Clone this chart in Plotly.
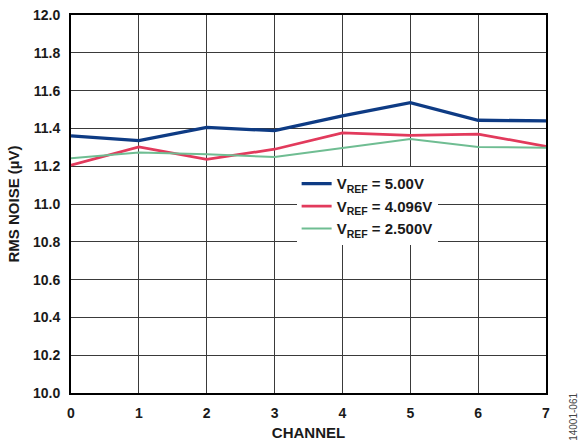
import plotly.graph_objects as go

channels = [0, 1, 2, 3, 4, 5, 6, 7]
vref_500 = [11.36, 11.335, 11.405, 11.388, 11.466, 11.536, 11.443, 11.44]
vref_4096 = [11.205, 11.302, 11.236, 11.29, 11.376, 11.363, 11.37, 11.305]
vref_2500 = [11.242, 11.273, 11.263, 11.249, 11.296, 11.344, 11.302, 11.298]
series_names = ["V<sub>REF</sub> = 5.00V", "V<sub>REF</sub> = 4.096V", "V<sub>REF</sub> = 2.500V"]
y_ticks = [10.0, 10.2, 10.4, 10.6, 10.8, 11.0, 11.2, 11.4, 11.6, 11.8, 12.0]

fig = go.Figure()
fig.add_trace(go.Scatter(x=channels, y=vref_500, mode="lines", name="<b>" + series_names[0] + "</b>",
                         line=dict(color="#0e3b84", width=3.3)))
fig.add_trace(go.Scatter(x=channels, y=vref_4096, mode="lines", name="<b>" + series_names[1] + "</b>",
                         line=dict(color="#e23a5c", width=2.7)))
fig.add_trace(go.Scatter(x=channels, y=vref_2500, mode="lines", name="<b>" + series_names[2] + "</b>",
                         line=dict(color="#6fbd92", width=2)))

font_family = "Liberation Sans, Arial, sans-serif"
fig.update_layout(
    width=581, height=444,
    margin=dict(l=71, r=35, t=15, b=51),
    paper_bgcolor="white", plot_bgcolor="white",
    font=dict(family=font_family, size=14, color="#1a1a1a"),
    showlegend=True,
    legend=dict(x=0.475, y=0.597, xanchor="left", yanchor="top",
                bgcolor="white", borderwidth=0,
                font=dict(family=font_family, size=15, color="#1a1a1a"),
                tracegroupgap=0, itemwidth=30),
    xaxis=dict(range=[0, 7], tickvals=channels, ticktext=[f"<b>{c}</b>" for c in channels],
               showgrid=True, gridcolor="#3a3a3a", gridwidth=1.3,
               showline=True, linecolor="black", linewidth=2, mirror=True,
               ticks="", zeroline=False, ticklabelstandoff=6, automargin=False,
               tickfont=dict(family=font_family, size=14, color="#1a1a1a"),
               title=dict(text="<b>CHANNEL</b>", standoff=8,
                          font=dict(family=font_family, size=15, color="#1a1a1a"))),
    yaxis=dict(range=[10.0, 12.0], tickvals=y_ticks, ticktext=[f"<b>{v:.1f}</b>" for v in y_ticks],
               showgrid=True, gridcolor="#3a3a3a", gridwidth=1.3,
               showline=True, linecolor="black", linewidth=2, mirror=True,
               ticks="", zeroline=False, ticklabelstandoff=6, automargin=False,
               tickfont=dict(family=font_family, size=14, color="#1a1a1a"),
               title=dict(text="<b>RMS NOISE (µV)</b>", standoff=10,
                          font=dict(family=font_family, size=15, color="#1a1a1a"))),
)

fig.add_annotation(text="14001-061", x=1.0, xref="paper", xanchor="center", xshift=28,
                   y=-0.063, yref="paper", yanchor="middle",
                   textangle=-90, showarrow=False,
                   font=dict(family=font_family, size=10, color="#444444"))

fig.write_html("out.html", config={"displayModeBar": False},
               post_script="document.body.style.margin='0px';")
